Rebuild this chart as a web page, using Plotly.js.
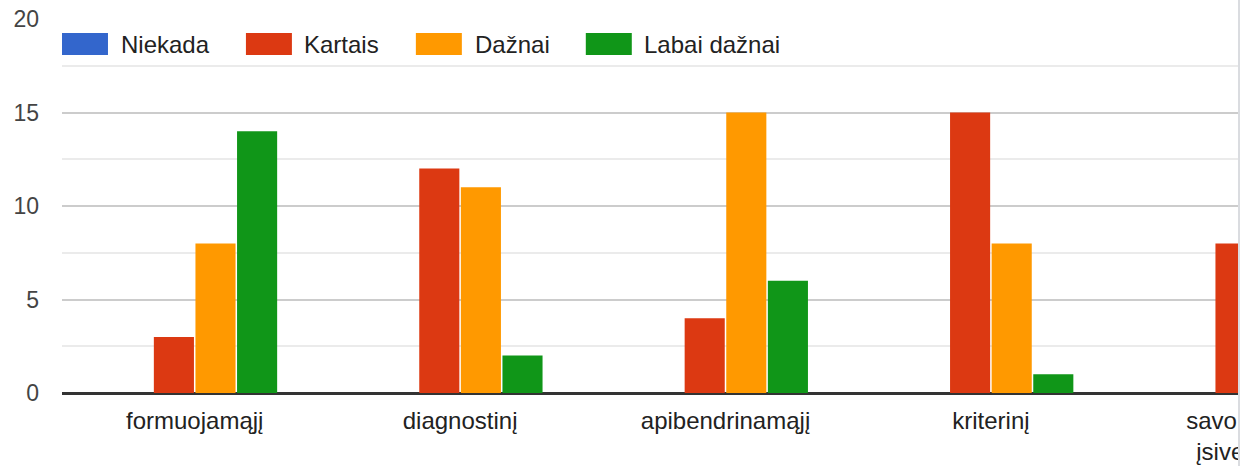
<!DOCTYPE html>
<html><head><meta charset="utf-8">
<script src="https://cdn.plot.ly/plotly-3.0.1.min.js"></script>
<style>
html,body{margin:0;padding:0;background:#fff;overflow:hidden}
#wrap{position:absolute;left:0;top:0;width:1238px;height:466px;overflow:hidden;border-right:2px solid #dadce0}
#chart{width:1400px;height:466px}
</style></head><body>
<div id="wrap"><div id="chart"></div></div>
<script>
const categories = ['formuojamąjį','diagnostinį','apibendrinamąjį','kriterinį','savo mokinių<br>įsivertinimą'];
const seriesNames = ['Niekada','Kartais','Dažnai','Labai dažnai'];
const niekada = [0,0,0,0,0];
const kartais = [3,12,4,15,8];
const daznai = [8,11,15,8,null];
const labaiDaznai = [14,2,6,1,null];
const seriesColors = ['#3366cc','#dc3912','#ff9900','#109618'];
const yTickVals = [0,5,10,15,20];

const values = [niekada, kartais, daznai, labaiDaznai];
const FONT = '"Liberation Sans", Arial, sans-serif';

const W = 1400, H = 466;
const M = {l:62, r:10.5, t:19, b:73};
const PW = W - M.l - M.r, PH = H - M.t - M.b;
const px2x = p => (p - M.l) / PW;
const px2y = p => (M.t + PH - p) / PH;

const traces = seriesNames.map((name, i) => ({
  type:'bar', name:name, x:categories, y:values[i],
  marker:{color:seriesColors[i], line:{width:0}},
  hoverinfo:'skip', showlegend:false
}));

// custom legend (swatch + label)
const legSwatchX = [62, 246, 416, 586];
const legTextX = [120, 303, 474, 643];
const shapes = [], annotations = [];
seriesNames.forEach((name, i) => {
  shapes.push({type:'rect', xref:'paper', yref:'paper',
    x0:px2x(legSwatchX[i]), x1:px2x(legSwatchX[i]+46),
    y0:px2y(55), y1:px2y(33), fillcolor:seriesColors[i], line:{width:0}, layer:'above'});
  annotations.push({xref:'paper', yref:'paper', x:px2x(legTextX[i]), y:px2y(44),
    xanchor:'left', yanchor:'middle', text:name, showarrow:false,
    font:{family:FONT, size:24, color:'#222222'}, borderpad:0});
});

const layout = {
  width:W, height:H, margin:M,
  paper_bgcolor:'#ffffff', plot_bgcolor:'#ffffff',
  font:{family:FONT, color:'#222222'},
  barmode:'group', bargap:0.373, bargroupgap:0.036,
  showlegend:false,
  xaxis:{type:'category', range:[-0.5, 4.5], showgrid:false, showline:false, zeroline:false,
    ticks:'', ticklabelstandoff:11, tickfont:{family:FONT, size:24, color:'#222222'}, fixedrange:true},
  yaxis:{range:[0,20], tickvals:yTickVals, showgrid:true, gridcolor:'#cccccc', gridwidth:2,
    minor:{dtick:2.5, tick0:0, showgrid:true, gridcolor:'#ebebeb', gridwidth:2},
    zeroline:true, zerolinecolor:'#333333', zerolinewidth:3, showline:false,
    ticks:'', ticklabelstandoff:22, tickfont:{family:FONT, size:23, color:'#444444'}, fixedrange:true},
  shapes:shapes, annotations:annotations
};

Plotly.newPlot('chart', traces, layout, {displayModeBar:false, staticPlot:true});
</script>
</body></html>
